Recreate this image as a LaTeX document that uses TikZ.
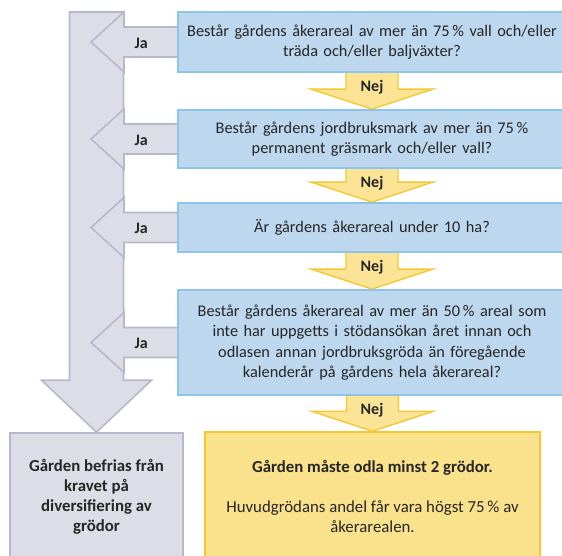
\documentclass[tikz,border=0pt]{standalone}
\usepackage{fontspec}
\setmainfont{Carlito}
\usetikzlibrary{calc}
\pgfdeclarelayer{bg}
\pgfsetlayers{bg,main}
\definecolor{bluefill}{HTML}{BDD7EE}
\definecolor{blueline}{HTML}{8CC4EA}
\definecolor{grayfill}{HTML}{DDDDE8}
\definecolor{grayline}{HTML}{B8B8CC}
\definecolor{yelfill}{HTML}{FAE18C}
\definecolor{yelline}{HTML}{F3C832}
\definecolor{nejfill}{HTML}{FCE496}
\definecolor{textc}{HTML}{262626}

\begin{document}
\begin{tikzpicture}[x=1pt, y=-1pt,
    question/.style={draw=blueline, fill=bluefill, line width=1.8pt, minimum width=388pt,
      inner sep=0pt, text width=384pt, align=center, text=textc,
      font=\fontsize{16.3}{20.5}\selectfont},
    endbox/.style={line width=1.6pt, inner sep=0pt, align=center, text=textc,
      font=\fontsize{16.8}{20}\selectfont},
    japil/.style={draw=grayline, fill=grayfill, line width=1.6pt, line join=miter},
    nejpil/.style={draw=yelline, fill=nejfill, line width=1.4pt, line join=miter},
    pillabel/.style={text=textc, inner sep=0pt, font=\fontsize{16}{18}\selectfont\bfseries}]
    \useasboundingbox (0,0) rectangle (562,555);

    % questions
    \node[question, minimum height=60pt] (q1) at (372,42)
        {Består gårdens åkerareal av mer än 75\,\% vall och/eller\\ träda och/eller baljväxter?};
    \node[question, minimum height=58pt] (q2) at (372,139)
        {Består gårdens jordbruksmark av mer än 75\,\%\\ permanent gräsmark och/eller vall?};
    \node[question, minimum height=49pt] (q3) at (372,227.5)
        {Är gårdens åkerareal under 10 ha?};
    \node[question, minimum height=105pt] (q4) at (372,342.5)
        {Består gårdens åkerareal av mer än 50\,\% areal som\\ inte har uppgetts i stödansökan året innan och\\
         odlasen annan jordbruksgröda än föregående\\ kalenderår på gårdens hela åkerareal?};

    % results
    \node[endbox, draw=grayline, fill=grayfill, minimum width=173pt, minimum height=127pt,
        font=\fontsize{16.8}{20}\selectfont\bfseries] (nej) at (96.5,496.5)
        {Gården befrias från\\ kravet på\\ diversifiering av\\ grödor};
    \node[endbox, draw=yelline, fill=yelfill, minimum width=335pt, minimum height=128pt] (ja) at (372.5,496)
        {\textbf{Gården måste odla minst 2 grödor.}\\[20pt]
         Huvudgrödans andel får vara högst 75\,\% av\\ åkerarealen.};

    \coordinate (top) at (97,12);

    \begin{pgfonlayer}{bg}
        % big arrow
        \draw[japil] let \p1=(top), \p2=(nej.north) in
            (\x2-27,\y1) -- (\x2+27,\y1) -- (\x2+27,\y2+52) -- (\x2+55,\y2+52) -- (\x2,\y2)
            -- (\x2-55,\y2+52) -- (\x2-27,\y2+52) -- cycle;
        % Ja arrows
        \foreach \q in {q1,q2,q3,q4} {
            \draw[japil] let \p1=(\q.west), \p2=(top) in
                (\x1,\y1+15) -- (\x2+27,\y1+15) -- (\x2+27,\y1+30) -- (\x2-6,\y1)
                -- (\x2+27,\y1-30) -- (\x2+27,\y1-15) -- (\x1,\y1-15);
        }
        % Nej arrows
        \foreach \a/\b in {q1/q2,q2/q3,q3/q4,q4/ja} {
            \draw[nejpil] let \p1=(\a.south), \p2=(\b.north) in
                (\x2-26,\y1) -- (\x2-26,\y2+20) -- (\x2-61,\y2+20) -- (\x2,\y2)
                -- (\x2+61,\y2+20) -- (\x2+26,\y2+20) -- (\x2+26,\y1);
        }
    \end{pgfonlayer}

    \foreach \q in {q1,q2,q3,q4}
        \node[pillabel] (ja\q) at ($(\q.west)+(-36,1)$) {Ja};
    \foreach \a in {q1,q2,q3,q4}
        \node[pillabel] (nej\a) at ($(\a.south)+(0,14)$) {Nej};
\end{tikzpicture}
\end{document}
